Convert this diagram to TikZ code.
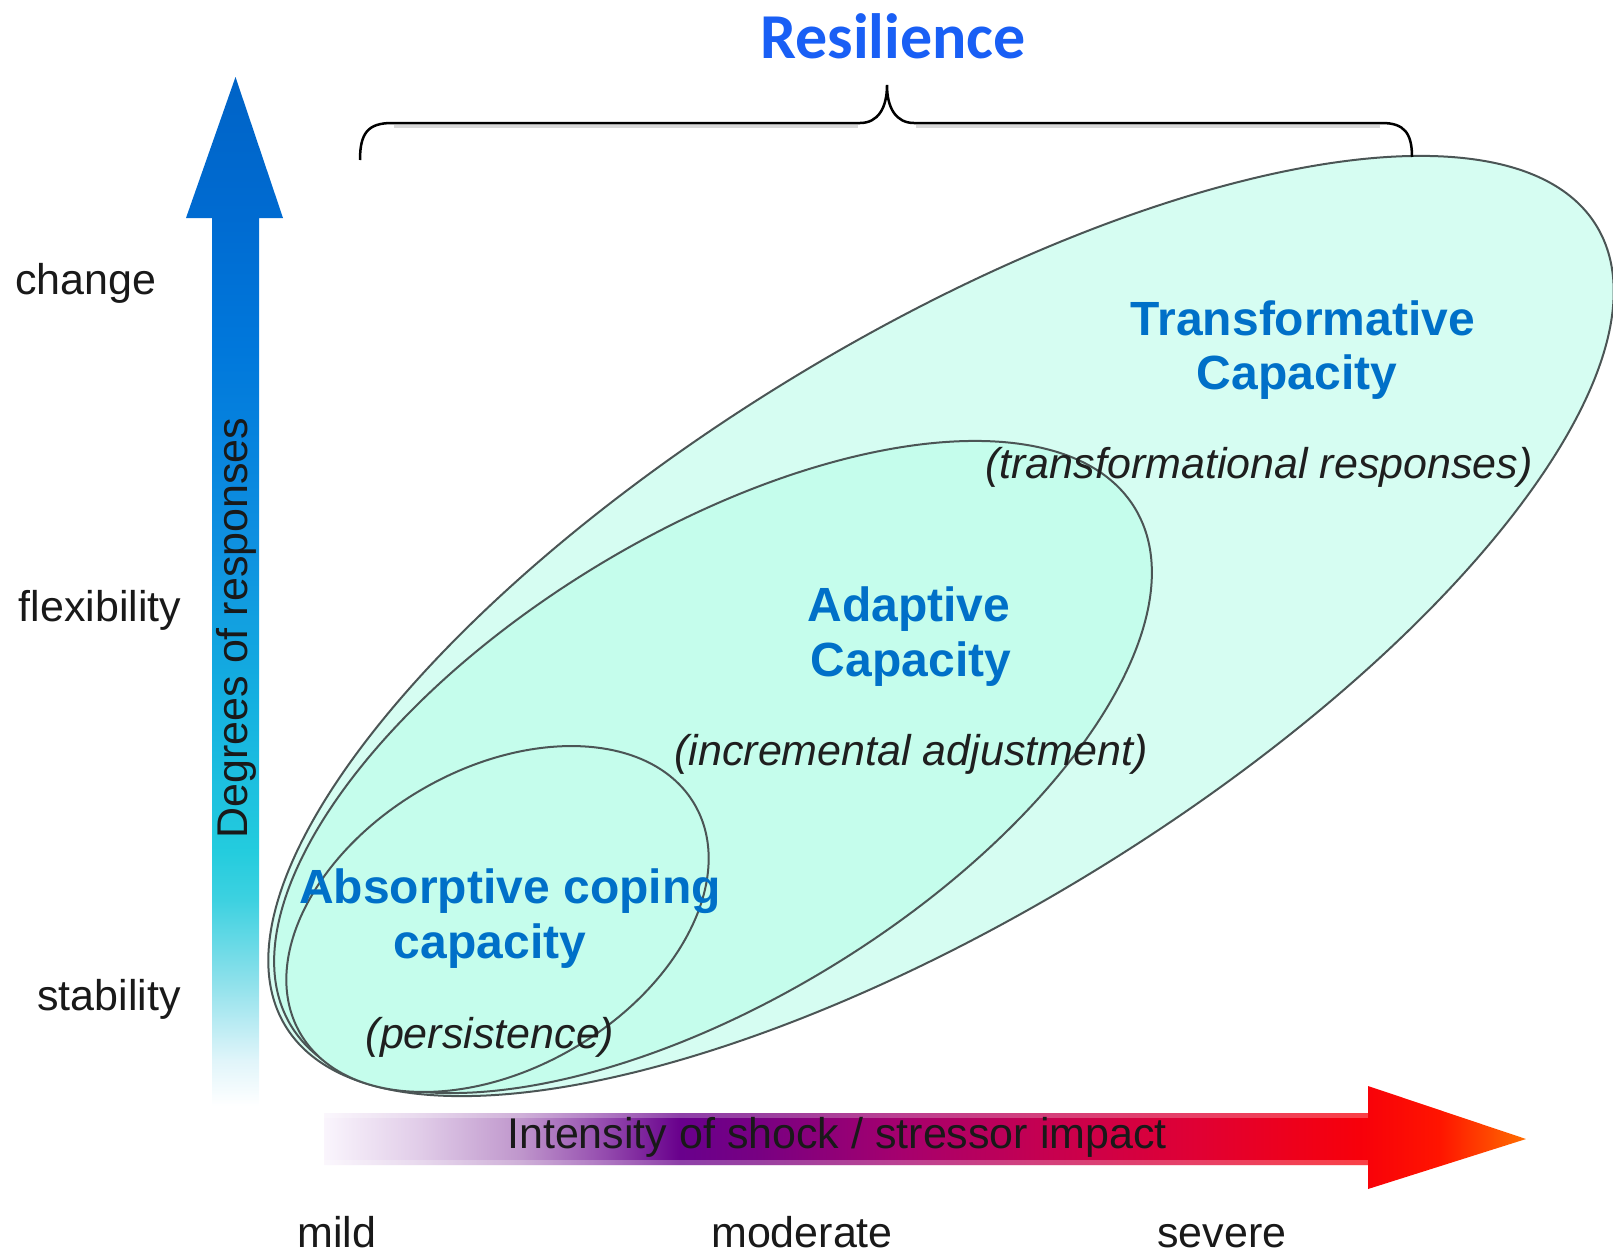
\documentclass[tikz,border=0pt]{standalone}
\usepackage{fontspec}
\setmainfont{Liberation Sans}
\newfontfamily\calibfont{Carlito}
\definecolor{resblue}{RGB}{25,95,245}
\definecolor{capblue}{RGB}{0,112,200}
\definecolor{outerfill}{RGB}{214,253,242}
\definecolor{innerfill}{RGB}{197,253,236}
\definecolor{ringline}{RGB}{75,85,85}
\pgfdeclareverticalshading{vshade}{100bp}{%
rgb(0bp)=(1,1,1); rgb(25bp)=(1,1,1);
rgb(27.2bp)=(0.88,0.96,0.98);
rgb(31.1bp)=(0.55,0.88,0.92);
rgb(35bp)=(0.24,0.82,0.88);
rgb(37.4bp)=(0.14,0.80,0.87);
rgb(44.7bp)=(0.08,0.69,0.88);
rgb(52bp)=(0.06,0.57,0.88);
rgb(61.7bp)=(0,0.47,0.86);
rgb(68.2bp)=(0,0.42,0.82);
rgb(75bp)=(0,0.39,0.78); rgb(100bp)=(0,0.39,0.78)}
\pgfdeclarehorizontalshading{hshade}{100bp}{%
rgb(0bp)=(0.98,0.96,0.99); rgb(25bp)=(0.98,0.96,0.99);
rgb(29bp)=(0.88,0.80,0.91);
rgb(33.15bp)=(0.75,0.59,0.80);
rgb(36.5bp)=(0.59,0.31,0.69);
rgb(39.8bp)=(0.41,0,0.55);
rgb(43.1bp)=(0.47,0,0.51);
rgb(49bp)=(0.65,0,0.43);
rgb(55.2bp)=(0.78,0,0.31);
rgb(61.4bp)=(0.88,0,0.20);
rgb(68.1bp)=(0.97,0,0.04);
rgb(71.4bp)=(1,0.08,0);
rgb(75bp)=(1,0.43,0); rgb(100bp)=(1,0.43,0)}
\begin{document}
\begin{tikzpicture}[x=1pt,y=-1pt,
  lbl/.style={font=\fontsize{43}{50}\selectfont, text=black!90, inner sep=0pt},
  capl/.style={font=\fontsize{48}{54}\selectfont\bfseries, text=capblue, inner sep=0pt},
  subl/.style={font=\fontsize{43}{50}\selectfont\itshape, text=black!88, inner sep=0pt},
  ring/.style={draw=ringline, line width=2pt}]
\useasboundingbox (0,0) rectangle (1613,1253);
\clip (0,0) rectangle (1613,1253);

% vertical arrow
\shade[shading=vshade] (212,1106) -- (212,218) -- (186,218) -- (235.5,77) -- (283,218) -- (259,218) -- (259,1106) -- cycle;

% horizontal arrow
\shade[shading=hshade] (324,1113) -- (1368,1113) -- (1368,1086) -- (1526,1139) -- (1368,1189) -- (1368,1165) -- (324,1165) -- cycle;
\fill[white, opacity=0.25] (324,1113) rectangle (1368,1118);
\fill[white, opacity=0.25] (324,1160) rectangle (1368,1165);

% ellipses
\filldraw[ring, fill=outerfill, rotate around={31.4:(941,626)}] (941,626) ellipse [x radius=768, y radius=289];
\filldraw[ring, fill=innerfill, rotate around={31.6:(713,767)}] (713,767) ellipse [x radius=495, y radius=232];
\filldraw[ring, fill=innerfill, rotate around={30.1:(497.5,919)}] (497.5,919) ellipse [x radius=228, y radius=150];

% brace
\draw[gray!30, line width=3pt] (394,126) -- (858,126) (916,126) -- (1380,126);
\coordinate (bl) at (360,160);
\coordinate (bt) at (887,85);
\coordinate (br) at (1412,157);
\draw[line width=2.5pt] (bl) .. controls (360,133) and (368,123) .. (392,123) -- (860,123)
  .. controls (878,123) and (887,108) .. (bt)
  .. controls (887,108) and (896,123) .. (914,123) -- (1382,123)
  .. controls (1404,123) and (1412,133) .. (br);

% texts
\node[font=\calibfont\bfseries\fontsize{64}{70}\selectfont, text=resblue, inner sep=0pt, anchor=base] (res) at (893,58) {Resilience};

\node[lbl, anchor=base] (change) at (86,294) {change};
\node[lbl, anchor=base] (flex) at (100,621) {flexibility};
\node[lbl, anchor=base] (stab) at (109,1010) {stability};
\node[lbl, rotate=90, anchor=base] (deg) at (247,628) {Degrees of responses};

\node[capl, anchor=base] (tc1) at (1303,335) {Transformative};
\node[capl, anchor=base] (tc2) at (1297,389) {Capacity};
\node[subl, anchor=base] (tc3) at (1259,478) {(transformational responses)};
\node[capl, anchor=base] (ac1) at (909,621) {Adaptive};
\node[capl, anchor=base] (ac2) at (911,676) {Capacity};
\node[subl, anchor=base] (ac3) at (911,765) {(incremental adjustment)};
\node[capl, anchor=base] (ab1) at (510,903) {Absorptive coping};
\node[capl, anchor=base] (ab2) at (490,958) {capacity};
\node[subl, anchor=base] (ab3) at (490,1048) {(persistence)};

\node[lbl, anchor=base] (int) at (837,1148) {Intensity of shock / stressor impact};
\node[lbl, anchor=base] (mild) at (337,1247) {mild};
\node[lbl, anchor=base] (mod) at (802,1247) {moderate};
\node[lbl, anchor=base] (sev) at (1222,1247) {severe};
\end{tikzpicture}
\end{document}
